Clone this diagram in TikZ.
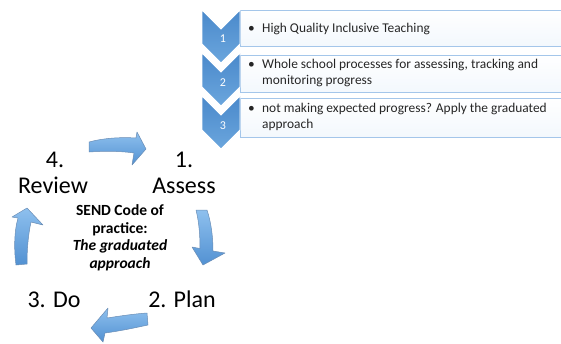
\documentclass[tikz,border=0pt]{standalone}
\usepackage{fontspec}
\setmainfont{Carlito}
\definecolor{chevA}{HTML}{4A89CB}
\definecolor{chevB}{HTML}{6BA6DD}
\definecolor{boxline}{HTML}{A4C6EA}
\definecolor{boxfill}{HTML}{F3F8FD}
\definecolor{arrA}{HTML}{8EC0EE}
\definecolor{arrB}{HTML}{5291D2}
\definecolor{arrline}{HTML}{6A8DB5}
\definecolor{txtgray}{HTML}{262626}
\begin{document}
\begin{tikzpicture}[x=1pt,y=-1pt,
  chev/.style={top color=chevA,bottom color=chevB,draw=white,line width=0.8pt,line join=miter},
  itembox/.style={draw=boxline,line width=0.9pt,top color=white,bottom color=boxfill},
  cyc/.style={top color=arrA,bottom color=arrB,draw=arrline,line width=0.5pt,line join=round},
  big/.style={font=\fontsize{24}{26}\selectfont,inner sep=0pt,anchor=base},
  mid/.style={font=\fontsize{15.5}{17.5}\selectfont\bfseries,inner sep=0pt,anchor=base},
  miditalic/.style={font=\fontsize{15.5}{17.5}\selectfont\bfseries\itshape,inner sep=0pt,anchor=base},
  itemtxt/.style={font=\fontsize{13.4}{16}\selectfont,inner sep=0pt,anchor=base west,text=txtgray},
  bul/.style={font=\fontsize{13.4}{16}\selectfont,inner sep=0pt,anchor=base,text=txtgray},
  num/.style={font=\fontsize{12}{12}\selectfont,text=white,inner sep=0pt}]
\useasboundingbox (0,0) rectangle (561,343);

% item boxes
\path[itembox] (240,10) rectangle (566,46);
\path[itembox] (240,55) rectangle (566,92);
\path[itembox] (240,98) rectangle (566,137);

% chevrons
\foreach \y in {10,53,96}{
  \path[chev] (202,\y) -- (221,\y+19) -- (240,\y) -- (240,\y+34) -- (221,\y+53) -- (202,\y+34) -- cycle;
}
\node[num] (k1) at (223,39) {1};
\node[num] (k2) at (223,82.5) {2};
\node[num] (k3) at (223,126) {3};

% box texts
\node[bul] (b1) at (251.5,32) {•};
\node[itemtxt] (t1) at (262,32) {High Quality Inclusive Teaching};
\node[bul] (b2) at (251.5,68) {•};
\node[itemtxt] (t2a) at (262,68) {Whole school processes for assessing, tracking and};
\node[itemtxt] (t2b) at (262,84) {monitoring progress};
\node[bul] (b3) at (251.5,112) {•};
\node[itemtxt] (t3a) at (262,112) {not making expected progress? Apply the graduated};
\node[itemtxt] (t3b) at (262,128) {approach};

% cycle arrows
% top
\path[cyc] (89,142) .. controls (104,138) and (121,137) .. (136,138)
  -- (137,132) -- (146,149) -- (132,165) -- (134,153)
  .. controls (121,151) and (104,151) .. (89,152) -- cycle;
% right
\path[cyc] (207,210) .. controls (211,222) and (213,236) .. (213,251)
  -- (225,253) -- (203,265) -- (192,247) -- (200,248.5)
  .. controls (200,235) and (199,222) .. (196,210) -- cycle;
% bottom
\path[cyc] (147,313) .. controls (133,314) and (120,316) .. (107,318)
  -- (108,308) -- (91,328) -- (103,342) -- (105,333)
  .. controls (120,331) and (134,328) .. (148,325) -- cycle;
% left
\path[cyc] (27,264) .. controls (27,250) and (28,236) .. (31,222)
  -- (43,225) -- (27,208) -- (12,217) -- (18,218)
  .. controls (14,232) and (14,250) .. (16,265) -- cycle;

% cycle labels
\node[big] (n4) at (55,167) {4.};
\node[big] (rev) at (53,193) {Review};
\node[big] (n1) at (184,167) {1.};
\node[big] (ass) at (184,193) {Assess};
\node[big] (do) at (54,307) {3. Do};
\node[big] (plan) at (182,307) {2. Plan};

\node[mid] (c1) at (120,215) {SEND Code of};
\node[mid] (c2) at (120,233) {practice:};
\node[miditalic] (c3) at (120,250.5) {The graduated};
\node[miditalic] (c4) at (120,268) {approach};
\end{tikzpicture}
\end{document}
